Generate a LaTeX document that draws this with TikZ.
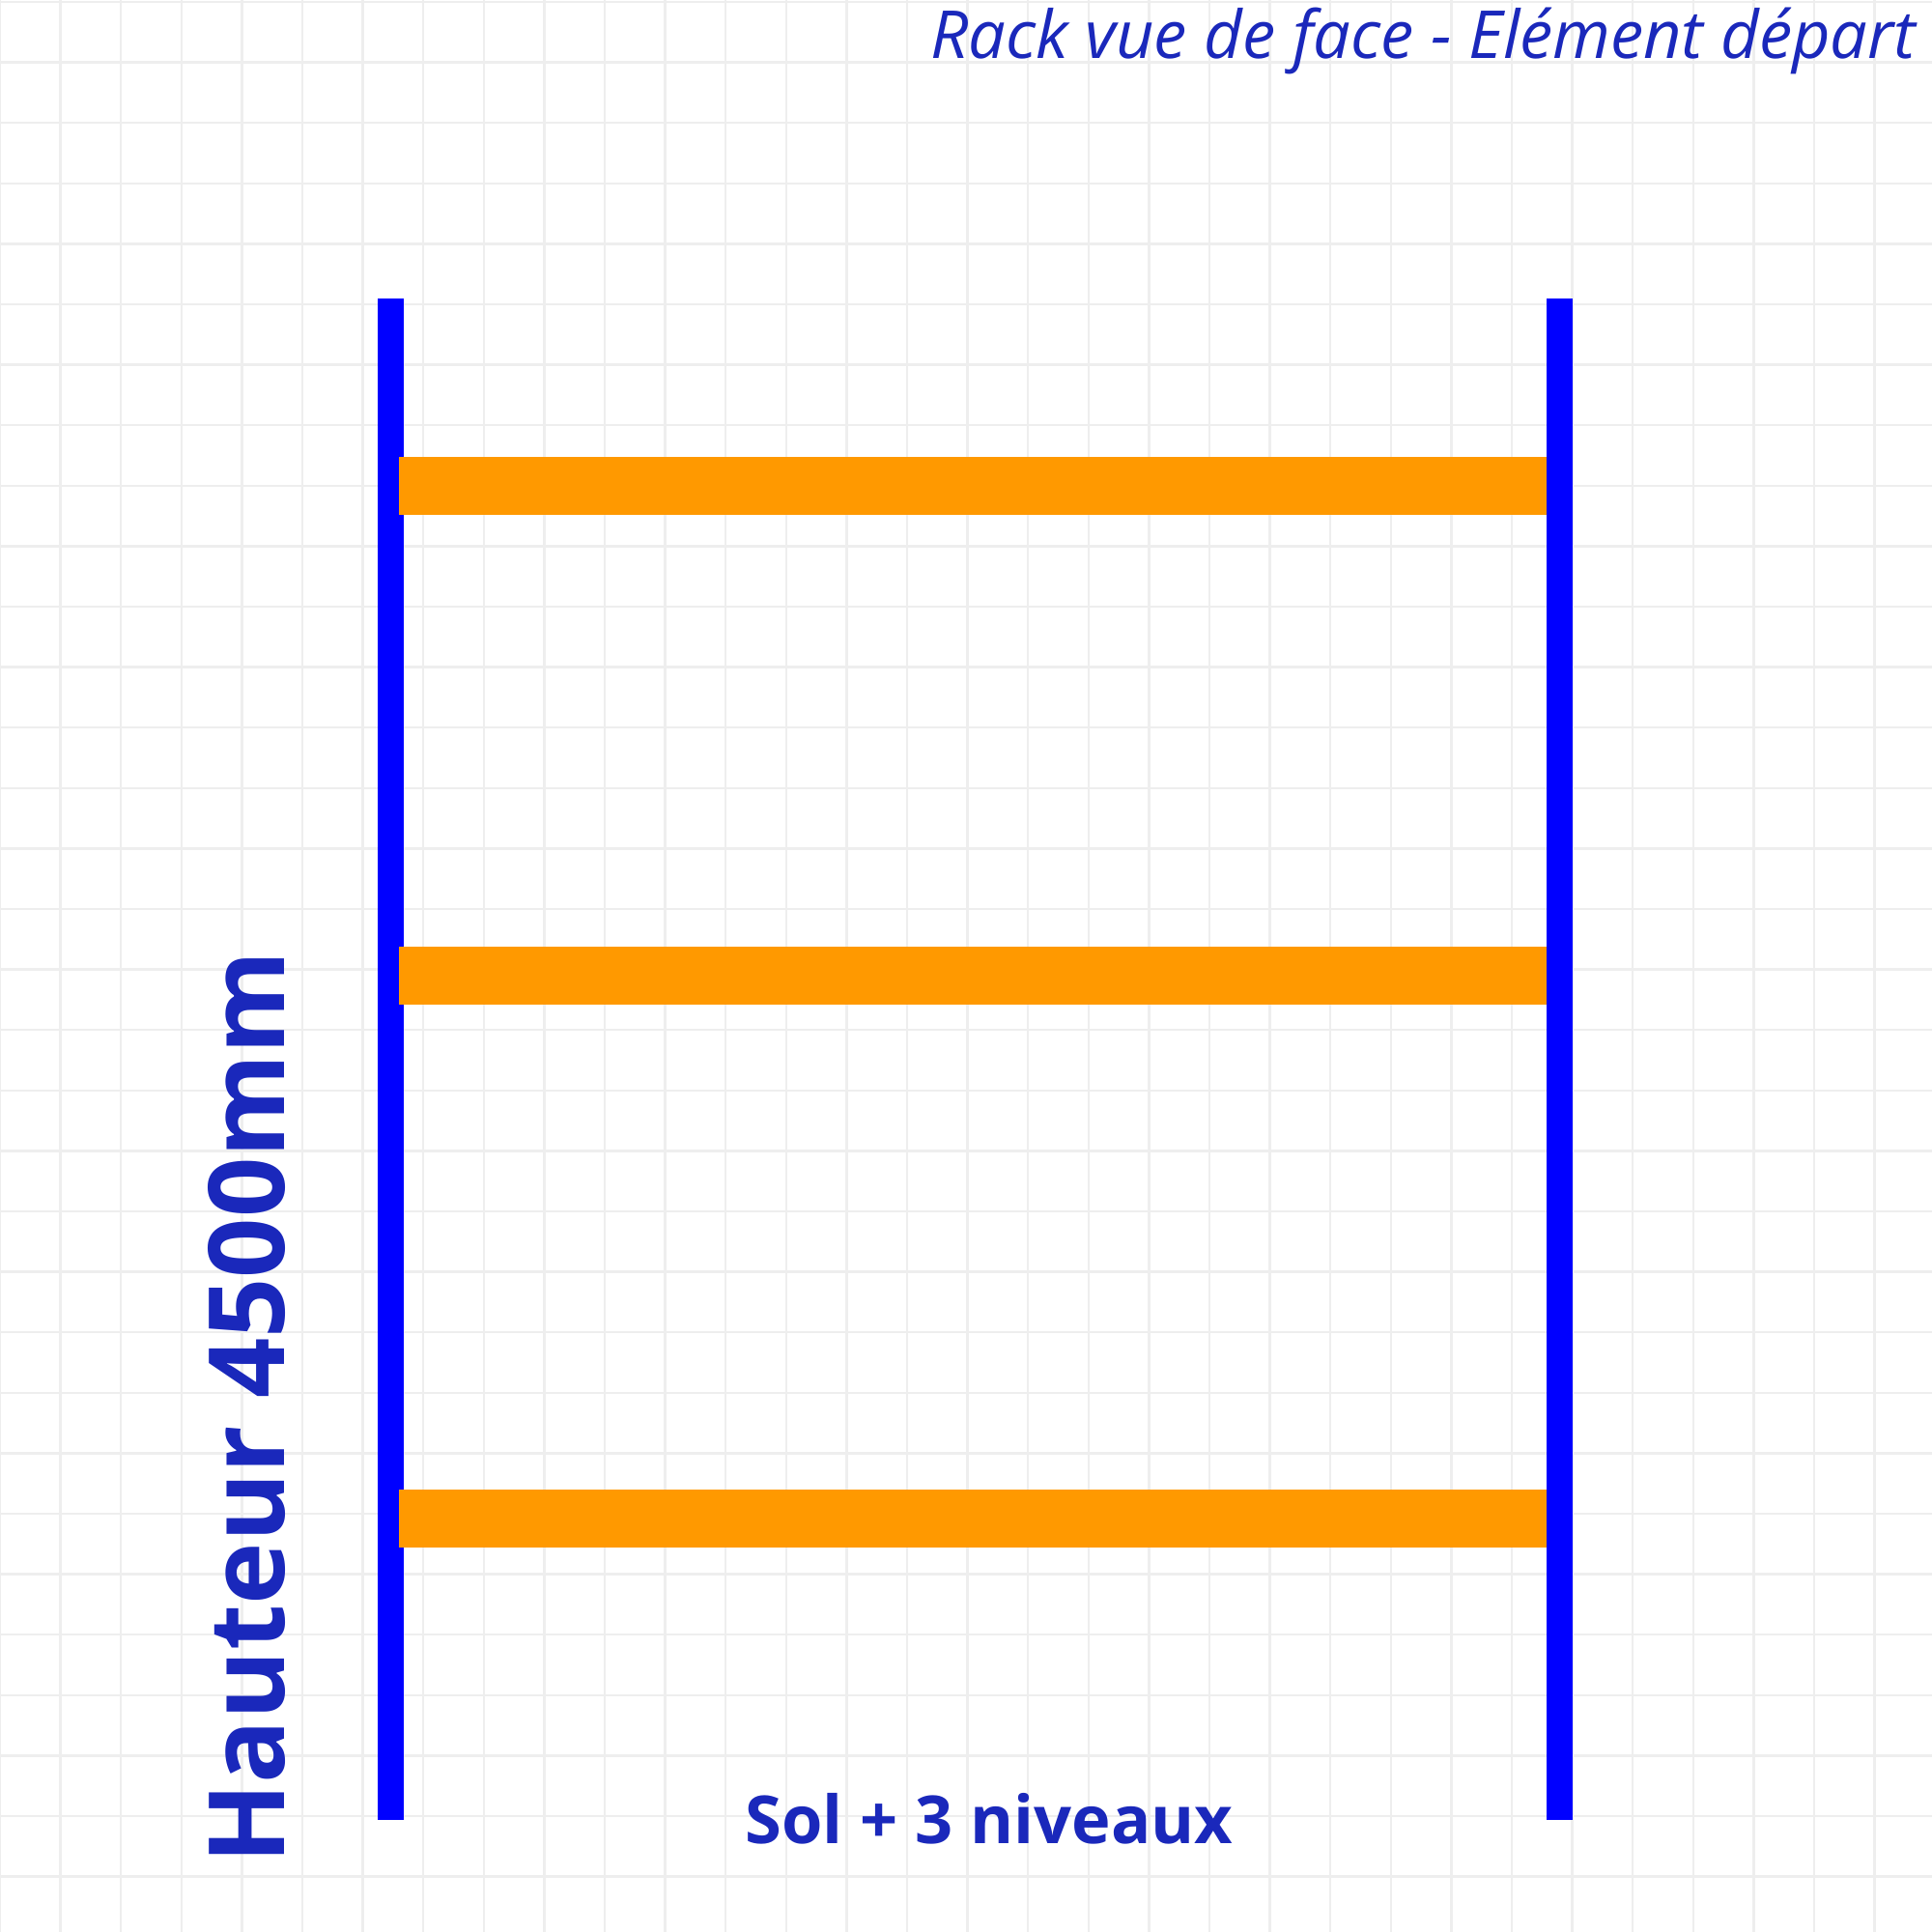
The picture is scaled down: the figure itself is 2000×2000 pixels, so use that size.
\documentclass[tikz,border=0pt]{standalone}
\usepackage{fontspec}
\setmainfont{Open Sans}
\definecolor{textblue}{RGB}{26,40,187}
\definecolor{postblue}{RGB}{0,0,255}
\definecolor{beamorange}{RGB}{255,153,0}
\definecolor{gridgray}{RGB}{238,238,238}

\begin{document}
\begin{tikzpicture}[
    x=0.01cm, y=-0.01cm,
    gridline/.style={draw=gridgray, line width=0.7pt},
    upright/.style={fill=postblue},
    beam/.style={fill=beamorange},
    titletext/.style={font=\itshape\fontsize{19.5}{23}\selectfont, text=textblue, anchor=base east, inner sep=0pt},
    bigtext/.style={font=\bfseries\fontsize{19.5}{24}\selectfont, text=textblue, anchor=base, inner sep=0pt},
    heighttext/.style={font=\bfseries\fontsize{31}{36}\selectfont, text=textblue, anchor=base, rotate=90, inner sep=0pt}
]

\useasboundingbox (0,0) rectangle (2000,2000);
\fill[white] (0,0) rectangle (2000,2000);

% Grid
\foreach \k in {0,...,31} {
    \draw[gridline] (62.6*\k, 0) -- (62.6*\k, 2000);
    \draw[gridline] (0, 2+62.6*\k) -- (2000, 2+62.6*\k);
}

% Uprights
\fill[upright] (391,309) rectangle (418,1884);
\fill[upright] (1601,309) rectangle (1628,1884);

% Beams
\foreach \y in {473, 980, 1542}
    \fill[beam] (413,\y) rectangle (1601,\y+60);

% Labels
\node[titletext] (title) at (1984, 61) {Rack vue de face - Elément départ};
\node[bigtext] (levels) at (1024, 1908) {Sol + 3 niveaux};
\node[heighttext] (height) at (294, 1457) {Hauteur 4500mm};

\end{tikzpicture}
\end{document}
